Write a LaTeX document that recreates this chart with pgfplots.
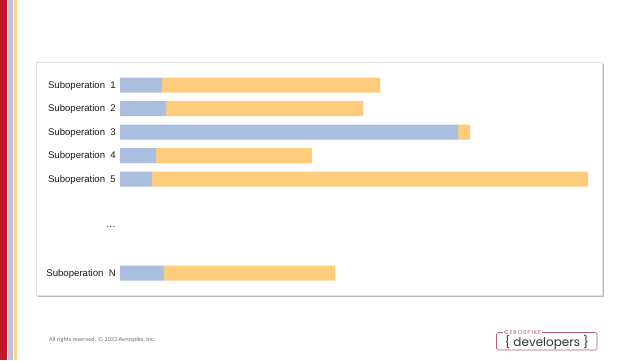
\documentclass[border=0pt]{standalone}
\usepackage{pgfplots}
\pgfplotsset{compat=1.18}
\usepackage{fontspec}
\setmainfont{Liberation Sans}
\newfontfamily\footfont{Carlito}
\newfontfamily\logofont{Poppins}
\definecolor{barblue}{HTML}{AABEDF}
\definecolor{barorange}{HTML}{FECC7B}
\definecolor{stripered}{HTML}{C0172B}
\definecolor{stripeblue}{HTML}{B9C3D6}
\definecolor{stripeyellow}{HTML}{FDD489}
\definecolor{logored}{HTML}{B5606E}
\begin{document}
\begin{tikzpicture}[x=1pt,y=1pt]
\useasboundingbox (0,0) rectangle (640,360);
\fill[white] (0,0) rectangle (640,360);
% left stripes
\fill[stripered] (0,0) rectangle (6.5,360);
\fill[stripeblue] (7.5,0) rectangle (12.5,360);
\fill[stripeyellow] (13.5,0) rectangle (16.5,360);
% box with shadow
\fill[black!28] (37.5,63.5) rectangle (604,296.5);
\fill[white] (36,65) rectangle (602.5,297.5);
\draw[black!12, line width=0.6pt] (36,65) rectangle (602.5,297.5);
\begin{axis}[
  at={(120pt,63.5pt)}, anchor=south west,
  scale only axis, width=480pt, height=235pt,
  xmin=0, xmax=480, ymin=0, ymax=10,
  y dir=reverse,
  xbar stacked, bar width=15pt, bar shift=0pt,
  axis line style={draw=none},
  major tick length=0pt,
  xtick=\empty,
  ytick={1,2,3,4,5,7,9},
  yticklabels={Suboperation\ \ 1,Suboperation\ \ 2,Suboperation\ \ 3,Suboperation\ \ 4,Suboperation\ \ 5,\dots,Suboperation\ \ N},
  yticklabel style={font=\fontsize{9.6}{10}\selectfont, inner sep=0pt, xshift=-4pt, yshift=-0.8pt, text=black!90},
  clip=false,
]
\addplot[fill=barblue, draw=none] coordinates {(42,1) (46,2) (338,3) (36,4) (32,5) (44,9)};
\addplot[fill=barorange, draw=none] coordinates {(218,1) (197,2) (12,3) (156,4) (436,5) (171,9)};
\end{axis}
% footer
\node[anchor=west, inner sep=0pt, text=black!55, font=\footfont\fontsize{6.2}{7}\selectfont] at (49,20) {All rights reserved. © 2023 Aerospike, Inc.};
% logo
\draw[logored, line width=0.6pt, rounded corners=1.5pt] (496.5,10) rectangle (597,27.5);
\node[fill=white, inner xsep=1pt, inner ysep=0pt, text=logored, font=\logofont\fontsize{5.6}{6}\selectfont, anchor=west] at (503,27.8) {€\,E\,R\,O\,S\,P\,I\,K\,E};
\node[inner sep=0pt, text=black!80, font=\logofont\fontsize{12}{12}\selectfont] at (546.8,17.8) {\{ developers \}};
\end{tikzpicture}
\end{document}
